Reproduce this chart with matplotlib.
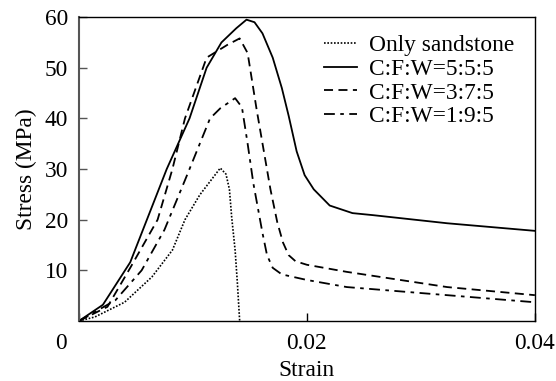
import matplotlib
matplotlib.use("Agg")
import matplotlib.pyplot as plt

plt.rcParams['font.family'] = ['Liberation Serif', 'DejaVu Serif']

# strain / stress (MPa)
sand_x = [0, 0.0014, 0.0040, 0.0064, 0.0082, 0.0093, 0.0106, 0.0124, 0.0129, 0.0132, 0.0134,
          0.0137, 0.0139, 0.0141]
sand_y = [0, 0.8, 3.7, 8.7, 14.0, 20.0, 24.9, 30.2, 29.0, 26.0, 20.5, 14.0, 7.5, 0]

c555_x = [0, 0.0021, 0.0045, 0.0077, 0.0097, 0.0112, 0.0125, 0.0138, 0.0147, 0.0154, 0.0161,
          0.0170, 0.0178, 0.0184, 0.0191, 0.0198, 0.0206, 0.0220, 0.0240, 0.0258, 0.0323, 0.0400]
c555_y = [0, 3.2, 11.6, 30.0, 40.0, 50.0, 55.0, 57.8, 59.5, 59.0, 56.8, 52.0, 46.0, 40.5,
          33.5, 28.8, 26.0, 22.8, 21.3, 20.9, 19.3, 17.8]

c375_x = [0, 0.0025, 0.0045, 0.0069, 0.0082, 0.0093, 0.0112, 0.0130, 0.0141, 0.0148, 0.0156,
          0.0168, 0.0174, 0.0179, 0.0184, 0.0190, 0.0200, 0.0235, 0.0323, 0.0400]
c375_y = [0, 2.8, 10.5, 20.0, 30.0, 40.0, 52.0, 54.5, 55.8, 52.9, 41.6,
          26.0, 19.5, 15.5, 13.0, 11.8, 11.1, 9.7, 6.7, 5.1]

c195_x = [0, 0.0032, 0.0055, 0.0075, 0.0093, 0.0097, 0.0115, 0.0124, 0.0137, 0.0143, 0.0148,
          0.0153, 0.0161, 0.0165, 0.0170, 0.0178, 0.0200, 0.0235, 0.0323, 0.0400]
c195_y = [0, 4.1, 10.0, 18.0, 27.8, 30.0, 40.0, 42.0, 44.0, 42.2, 35.0,
          27.2, 17.4, 13.0, 10.5, 9.2, 8.1, 6.7, 5.1, 3.7]

labels = ['Only sandstone', 'C:F:W=5:5:5', 'C:F:W=3:7:5', 'C:F:W=1:9:5']

fs = 16.8

fig = plt.figure(figsize=(5.56, 3.81), dpi=100)
ax = fig.add_axes([0.142, 0.1575, 0.820, 0.7975])

ax.plot(sand_x, sand_y, color='black', lw=1.2, ls=(0, (1, 1)), label=labels[0])
ax.plot(c555_x, c555_y, color='black', lw=1.3, ls='-', label=labels[1])
ax.plot(c375_x, c375_y, color='black', lw=1.3, ls=(0, (5, 3)), label=labels[2])
ax.plot(c195_x, c195_y, color='black', lw=1.3, ls=(0, (6, 3, 2, 3)), label=labels[3])

ax.set_xlim(0, 0.04)
ax.set_ylim(0, 60)
ax.set_xticks([0, 0.02, 0.04])
ax.set_xticklabels(['', '0.02', '0.04'])
ax.set_yticks([10, 20, 30, 40, 50, 60])
ax.set_yticklabels(['10', '20', '30', '40', '50', '60'])
ax.tick_params(direction='in', length=6, labelsize=fs, width=1)
ax.tick_params(axis='x', pad=9)
ax.tick_params(axis='y', pad=8, color='#555555')
ax.text(-0.04, -0.075, '0', transform=ax.transAxes, fontsize=fs,
        ha='center', va='center')

ax.set_xlabel('Strain', fontsize=fs, labelpad=4)
ax.set_ylabel('Stress (MPa)', fontsize=fs, labelpad=5)

for s in ax.spines.values():
    s.set_linewidth(1.0)
ax.spines['left'].set_color('#555555')
ax.spines['left'].set_linewidth(1.5)

ax.legend(loc='upper right', bbox_to_anchor=(0.99, 0.995), frameon=False, fontsize=fs,
          handlelength=1.4, handletextpad=0.5, labelspacing=0.1, borderaxespad=0.3)

fig.savefig('out.png', dpi=100)
